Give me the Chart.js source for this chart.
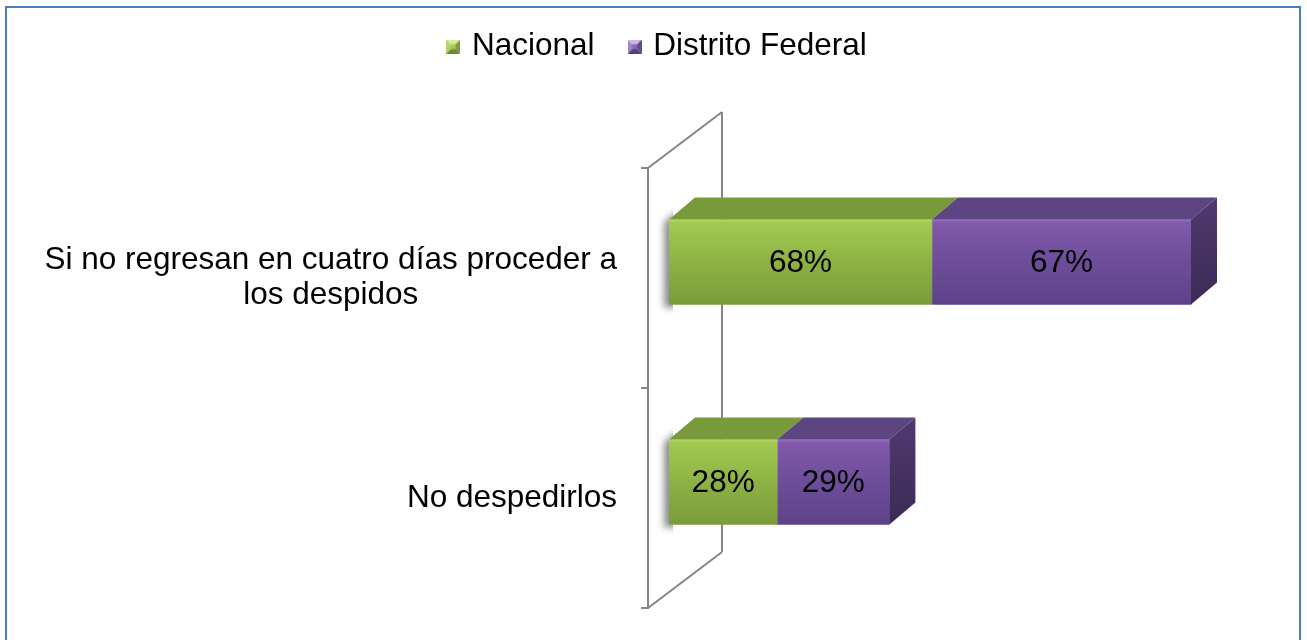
<!DOCTYPE html>
<html>
<head>
<meta charset="utf-8">
<title>Nacional / Distrito Federal</title>
<script src="https://cdn.jsdelivr.net/npm/chart.js@4.4.1/dist/chart.umd.min.js"></script>
<style>
  html, body { margin: 0; padding: 0; background: #ffffff; overflow: hidden; }
  #wrap { position: relative; width: 1307px; height: 640px; }
  #chart { position: absolute; left: 0; top: 0; }
  #frame { position: absolute; left: 5px; top: 6px; width: 1296px; height: 700px;
           border: 2px solid #4a7ebb; box-sizing: border-box; pointer-events: none; }
</style>
</head>
<body>
<div id="wrap">
  <canvas id="chart" width="1307" height="640"></canvas>
  <div id="frame"></div>
</div>
<script>
// ---- data ----
const categories = [
  ["Si no regresan en cuatro días proceder a", "los despidos"],
  ["No despedirlos"]
];
const seriesNames = ["Nacional", "Distrito Federal"];
const nacional = [68, 28];
const distritoFederal = [67, 29];
const valueMax = 165;

// ---- styling ----
const FONT_FAMILY = '"Liberation Sans", Arial, sans-serif';
const FONT_SIZE = 31.5;
const BAR_THICKNESS = 85;
const DEPTH = { dx: 26, dy: -22 };                 // extrusion of each bar box
const WALL = { offX: -21, offY: 16, depthX: 74, depthY: -56, tick: 7, color: '#858585' };
const LABEL_RIGHT_GAP = 52;                        // category labels end this far left of the plot
const LABEL_LINE_HEIGHT = 35;

const palette = [
  { front: ['#b0d864', '#a2ca50', '#8db244', '#7b9b3a'], top: '#789a3a',
    side: ['#64822f', '#556f28'],
    marker: { top: '#d3ea9f', left: '#b2d36c', right: '#7d9c3c', bottom: '#6d8a32', center: '#a5c95a' } },
  { front: ['#9270be', '#8159ab', '#6d4d99', '#5e4289'], top: '#5d4581',
    side: ['#50396f', '#3c2a56'],
    marker: { top: '#cbb8e4', left: '#a284c6', right: '#654b8c', bottom: '#573f7a', center: '#8a6ab4' } }
];

function makeMarker(c) {
  const s = 14, m = s / 2;
  const cv = document.createElement('canvas');
  cv.width = s; cv.height = s;
  const g = cv.getContext('2d');
  const tri = (pts, col) => {
    g.beginPath(); g.moveTo(pts[0][0], pts[0][1]);
    for (let i = 1; i < pts.length; i++) g.lineTo(pts[i][0], pts[i][1]);
    g.closePath(); g.fillStyle = col; g.fill();
  };
  tri([[0, 0], [s, 0], [m, m]], c.top);
  tri([[0, 0], [m, m], [0, s]], c.left);
  tri([[s, 0], [s, s], [m, m]], c.right);
  tri([[0, s], [m, m], [s, s]], c.bottom);
  g.fillStyle = c.center;
  g.fillRect(m - 2.5, m - 2.5, 5, 5);
  return cv;
}
const markers = palette.map(p => makeMarker(p.marker));

function frontFill(ctx, stops) {
  const chart = ctx.chart;
  const y = chart.scales && chart.scales.y;
  if (!chart.chartArea || !y || ctx.dataIndex == null) return stops[1];
  const cy = y.getPixelForValue(ctx.dataIndex);
  const g = chart.ctx.createLinearGradient(0, cy - BAR_THICKNESS / 2, 0, cy + BAR_THICKNESS / 2);
  g.addColorStop(0, stops[0]);
  g.addColorStop(0.04, stops[1]);
  g.addColorStop(0.5, stops[2]);
  g.addColorStop(1, stops[3]);
  return g;
}

function poly(ctx, pts) {
  ctx.beginPath();
  ctx.moveTo(pts[0][0], pts[0][1]);
  for (let i = 1; i < pts.length; i++) ctx.lineTo(pts[i][0], pts[i][1]);
  ctx.closePath();
}

function barBox(el) {
  const p = el.getProps(['x', 'y', 'base', 'height'], true);
  return { x0: Math.min(p.base, p.x), x1: Math.max(p.base, p.x),
           yT: p.y - p.height / 2, yB: p.y + p.height / 2, cy: p.y };
}

// back wall, category ticks, shadows and category labels
const wallPlugin = {
  id: 'wall3d',
  beforeDatasetsDraw(chart) {
    const { ctx, chartArea, scales } = chart;
    const y = scales.y;
    const fx = chartArea.left + WALL.offX;
    const fTop = chartArea.top + WALL.offY;
    const fBot = chartArea.bottom + WALL.offY;
    const bx = fx + WALL.depthX;
    ctx.save();
    ctx.strokeStyle = WALL.color;
    ctx.lineWidth = 2;
    ctx.lineCap = 'butt';
    ctx.beginPath();
    ctx.moveTo(fx, fTop); ctx.lineTo(fx, fBot);
    ctx.moveTo(bx, fTop + WALL.depthY); ctx.lineTo(bx, fBot + WALL.depthY);
    ctx.moveTo(fx, fTop); ctx.lineTo(bx, fTop + WALL.depthY);
    ctx.moveTo(fx, fBot); ctx.lineTo(bx, fBot + WALL.depthY);
    const n = chart.data.labels.length;
    const step = n > 1 ? y.getPixelForValue(1) - y.getPixelForValue(0) : (fBot - fTop);
    for (let k = 0; k <= n; k++) {
      const ty = y.getPixelForValue(0) - step / 2 + k * step + WALL.offY;
      ctx.moveTo(fx - WALL.tick, ty); ctx.lineTo(fx + 1, ty);
    }
    ctx.stroke();
    ctx.restore();

    // soft shadow at the left end of every stacked bar
    const metas = chart.data.datasets.map((d, i) => chart.getDatasetMeta(i));
    for (let i = 0; i < n; i++) {
      const first = barBox(metas[0].data[i]);
      const last = barBox(metas[metas.length - 1].data[i]);
      const x0 = first.x0, x1 = last.x1, yT = first.yT, yB = first.yB;
      ctx.save();
      ctx.beginPath();
      ctx.rect(0, 0, x0 + 4, chart.height);
      ctx.clip();
      ctx.shadowColor = 'rgba(0,0,0,0.45)';
      ctx.shadowBlur = 7;
      ctx.shadowOffsetX = -5;
      ctx.shadowOffsetY = 3;
      ctx.fillStyle = '#ffffff';
      poly(ctx, [[x0, yB], [x0, yT], [x0 + DEPTH.dx, yT + DEPTH.dy], [x1 + DEPTH.dx, yT + DEPTH.dy],
                 [x1 + DEPTH.dx, yB + DEPTH.dy], [x1, yB]]);
      ctx.fill();
      ctx.restore();
    }

    // category labels: centred lines, block right-aligned next to the wall
    ctx.save();
    ctx.font = FONT_SIZE + 'px ' + FONT_FAMILY;
    ctx.fillStyle = '#000000';
    ctx.textAlign = 'center';
    ctx.textBaseline = 'middle';
    const right = chartArea.left - LABEL_RIGHT_GAP;
    chart.data.labels.forEach((lab, i) => {
      const lines = Array.isArray(lab) ? lab : [lab];
      const w = Math.max(...lines.map(t => ctx.measureText(t).width));
      const cx = right - w / 2;
      const cy = y.getPixelForValue(i) + WALL.offY;
      const startY = cy - (lines.length - 1) * LABEL_LINE_HEIGHT / 2;
      lines.forEach((t, j) => ctx.fillText(t, cx, startY + j * LABEL_LINE_HEIGHT));
    });
    ctx.restore();
  },
  afterDatasetsDraw(chart) {
    const { ctx } = chart;
    const nSets = chart.data.datasets.length;
    ctx.save();
    chart.data.datasets.forEach((ds, di) => {
      const meta = chart.getDatasetMeta(di);
      meta.data.forEach((el) => {
        const b = barBox(el);
        // top face
        ctx.fillStyle = palette[di].top;
        poly(ctx, [[b.x0, b.yT], [b.x1, b.yT], [b.x1 + DEPTH.dx, b.yT + DEPTH.dy], [b.x0 + DEPTH.dx, b.yT + DEPTH.dy]]);
        ctx.fill();
        // end face of the stack
        if (di === nSets - 1) {
          const g = ctx.createLinearGradient(0, b.yT + DEPTH.dy, 0, b.yB);
          g.addColorStop(0, palette[di].side[0]);
          g.addColorStop(1, palette[di].side[1]);
          ctx.fillStyle = g;
          poly(ctx, [[b.x1, b.yT], [b.x1 + DEPTH.dx, b.yT + DEPTH.dy], [b.x1 + DEPTH.dx, b.yB + DEPTH.dy], [b.x1, b.yB]]);
          ctx.fill();
        }
      });
    });
    // value labels on the front faces
    ctx.font = FONT_SIZE + 'px ' + FONT_FAMILY;
    ctx.fillStyle = '#000000';
    ctx.textAlign = 'center';
    ctx.textBaseline = 'middle';
    chart.data.datasets.forEach((ds, di) => {
      chart.getDatasetMeta(di).data.forEach((el, i) => {
        const b = barBox(el);
        ctx.fillText(ds.data[i] + '%', (b.x0 + b.x1) / 2, b.cy + 1);
      });
    });
    ctx.restore();
  }
};

new Chart(document.getElementById('chart'), {
  type: 'bar',
  data: {
    labels: categories,
    datasets: [
      { label: seriesNames[0], data: nacional,
        backgroundColor: (c) => frontFill(c, palette[0].front), borderWidth: 0 },
      { label: seriesNames[1], data: distritoFederal,
        backgroundColor: (c) => frontFill(c, palette[1].front), borderWidth: 0 }
    ]
  },
  options: {
    indexAxis: 'y',
    responsive: false,
    animation: false,
    events: [],
    barThickness: BAR_THICKNESS,
    layout: { padding: { left: 10, right: 0, top: -6, bottom: 48 } },
    scales: {
      x: {
        type: 'linear', position: 'top', stacked: true, min: 0, max: valueMax,
        grid: { display: false }, border: { display: false }, ticks: { display: false },
        afterFit(s) { s.height = 79.5; }
      },
      y: {
        type: 'category', stacked: true,
        grid: { display: false }, border: { display: false }, ticks: { display: false },
        afterFit(s) { s.width = 659; }
      }
    },
    plugins: {
      legend: {
        position: 'top',
        align: 'center',
        labels: {
          usePointStyle: true,
          pointStyleWidth: 6,
          padding: 37,
          color: '#000000',
          font: { family: FONT_FAMILY, size: FONT_SIZE },
          generateLabels(chart) {
            return chart.data.datasets.map((ds, i) => ({
              text: ds.label,
              pointStyle: markers[i],
              fillStyle: palette[i].top,
              strokeStyle: 'rgba(0,0,0,0)',
              lineWidth: 0,
              hidden: false,
              datasetIndex: i,
              fontColor: '#000000'
            }));
          }
        }
      },
      tooltip: { enabled: false }
    }
  },
  plugins: [wallPlugin]
});
</script>
</body>
</html>
